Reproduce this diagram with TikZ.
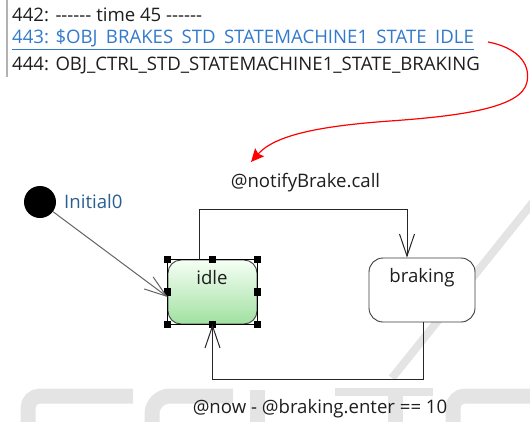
\documentclass[tikz,border=0pt]{standalone}
\usepackage{fontspec}
\setmainfont{Open Sans}[Ligatures=TeXOff]
\usetikzlibrary{arrows.meta,shadings,calc}
\definecolor{linkblue}{RGB}{51,122,204}
\definecolor{txt}{RGB}{30,30,30}
\definecolor{initblue}{RGB}{40,95,145}
\definecolor{wm}{RGB}{228,228,228}
\definecolor{edge}{RGB}{60,60,60}
\newcommand{\usp}{\phantom{\_}}
\begin{document}
\begin{tikzpicture}[x=1pt,y=-1pt,
  font=\fontsize{18.6}{22}\selectfont,
  logtext/.style={anchor=base west, inner sep=0pt, text=txt},
  lbl/.style={anchor=base, inner sep=0pt, text=txt},
  statebox/.style={draw=edge, line width=0.9pt, inner sep=0pt, minimum height=64pt},
  trans/.style={draw=black!85, line width=1pt, -{Straight Barb[length=22pt,width=15pt]}},
  handle/.style={rectangle, fill=black, draw=none, minimum size=7.5pt, inner sep=0pt},
  wmstroke/.style={draw=wm, line width=15pt}]
\useasboundingbox (0,0) rectangle (530,421);

% watermark
\draw[wmstroke, line width=8pt] (538,196) -- (392,378);
\draw[wmstroke] (133,396) -- (40,396) arc[start angle=90,end angle=180,radius=12pt] -- (28,430);
\draw[wmstroke] (233,396) -- (170,396) arc[start angle=90,end angle=180,radius=18pt] -- (152,430);
\draw[wmstroke] (257,390) -- (257,430);
\draw[wmstroke, line width=8pt] (335,392) -- (433,392);
\draw[wmstroke] (395,396) -- (395,430);
\draw[wmstroke] (535,396) -- (465,396) arc[start angle=90,end angle=180,radius=12pt] -- (453,430);

% log text
\draw[gray!60, line width=1.2pt] (7,0) -- (7,77);
\node[logtext] (l442) at (12,21) {442: ------ time 45 ------};
\node[logtext, text=linkblue] (l443) at (12,43.5) {443: \$OBJ\usp BRAKES\usp STD\usp STATEMACHINE1\usp STATE\usp IDLE};
\draw[linkblue, line width=1.2pt] ($(l443.base west)+(0,6)$) -- ($(l443.base east)+(0,6)$);
\node[logtext] (l444) at (12,70) {444: OBJ\_CTRL\_STD\_STATEMACHINE1\_STATE\_BRAKING};

% red pointer
\coordinate (rs) at (488,42);
\coordinate (re) at (251,162);
\draw[red, line width=1.2pt, -{Stealth[length=13pt,width=12pt,inset=2pt]}]
  (rs) .. controls (515,47) and (531,62) .. (527,82)
       .. controls (522,108) and (460,116) .. (390,121)
       .. controls (320,126) and (275,135) .. (re);

% initial state
\node[circle, fill=black, minimum size=32pt, inner sep=0pt] (init) at (40,202) {};
\node[anchor=base west, inner sep=0pt, text=initblue] (initlbl) at (64,208) {Initial0};

% states
\node[statebox, rounded corners=13pt, minimum width=89pt,
      top color=white!94!green!60!white, bottom color={rgb,255:red,160;green,224;blue,160}]
      (idle) at (212.5,292) {};
\draw[black, line width=1.8pt] (idle.north west) rectangle (idle.south east);
\foreach \a in {north west,north,north east,east,south east,south,south west,west}
  \node[handle] (h-\a) at (idle.\a) {};
\node[lbl] (idlelbl) at (212,284) {idle};

\node[statebox, rounded corners=14pt, minimum width=106pt, fill=white] (braking) at (422,290) {};
\node[lbl] (brakinglbl) at (422,282) {braking};

% transitions
\draw[trans, draw=edge!80] (init) -- ([yshift=-5pt]idle.west);
\draw[trans] ([xshift=-13.5pt]idle.north) |- (407,209) -- ([xshift=-15pt]braking.north);
\draw[trans] ([xshift=1pt]braking.south) |- (212.5,379) -- (idle.south);

\node[lbl] (notify) at (305.5,187) {@notifyBrake.call};
\node[lbl] (guard) at (320,413) {@now - @braking.enter == 10};
\end{tikzpicture}
\end{document}
